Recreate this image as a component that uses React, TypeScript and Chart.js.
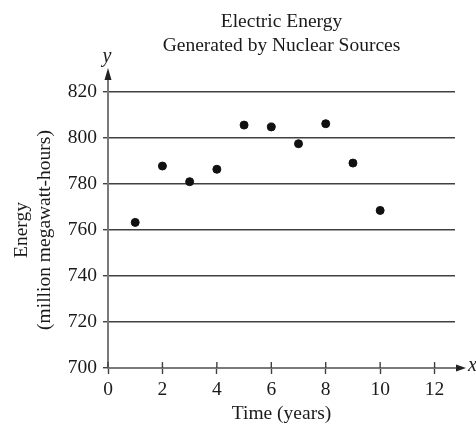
import React, { useEffect, useRef } from "react";
import { Chart, registerables } from "chart.js";

Chart.register(...registerables);

const years = [1, 2, 3, 4, 5, 6, 7, 8, 9, 10];
const energy = [763.3, 787.8, 781, 786.4, 805.6, 804.8, 797.5, 806.2, 789.1, 768.5];
const xTicks = [0, 2, 4, 6, 8, 10, 12];
const yTicks = [700, 720, 740, 760, 780, 800, 820];
const titleLines = ["Electric Energy", "Generated by Nuclear Sources"];
const yTitleLines = ["Energy", "(million megawatt-hours)"];
const xTitle = "Time (years)";

const FONT = "'Liberation Serif', 'DejaVu Serif', serif";
const AXIS = "#7a7a7a";
const GRID = "#404040";
const TEXT = "#1a1a1a";

const axesPlugin = {
  id: "axesArrows",
  afterDraw(chart: any) {
    const ctx = chart.ctx;
    const { top, right, bottom } = chart.chartArea;
    const xs = chart.scales.x;
    const x0 = xs.getPixelForValue(0);
    ctx.save();
    ctx.strokeStyle = AXIS;
    ctx.fillStyle = "#222";
    ctx.lineWidth = 2;
    // y-axis extension
    ctx.beginPath();
    ctx.moveTo(x0, top);
    ctx.lineTo(x0, top - 14);
    ctx.stroke();
    ctx.beginPath();
    ctx.moveTo(x0, top - 24);
    ctx.lineTo(x0 - 3.5, top - 12);
    ctx.lineTo(x0 + 3.5, top - 12);
    ctx.closePath();
    ctx.fill();
    // x-axis extension
    ctx.beginPath();
    ctx.moveTo(right, bottom);
    ctx.lineTo(right + 2, bottom);
    ctx.stroke();
    ctx.beginPath();
    ctx.moveTo(right + 11, bottom);
    ctx.lineTo(right + 1, bottom - 3.5);
    ctx.lineTo(right + 1, bottom + 3.5);
    ctx.closePath();
    ctx.fill();
    // upper halves of x tick marks
    ctx.strokeStyle = GRID;
    ctx.lineWidth = 1.4;
    xTicks.forEach((v) => {
      const px = xs.getPixelForValue(v);
      ctx.beginPath();
      ctx.moveTo(px, bottom - 6);
      ctx.lineTo(px, bottom);
      ctx.stroke();
    });
    // axis letters
    ctx.fillStyle = TEXT;
    ctx.font = `italic 20px ${FONT}`;
    ctx.textBaseline = "middle";
    ctx.textAlign = "center";
    ctx.fillText("y", x0 - 1, top - 35);
    ctx.textAlign = "left";
    ctx.fillText("x", right + 13, bottom - 2);
    ctx.restore();
  },
};

export default function App() {
  const ref = useRef<HTMLCanvasElement>(null);
  useEffect(() => {
    if (!ref.current) return;
    const chart = new Chart(ref.current, {
      type: "scatter",
      data: {
        datasets: [
          {
            data: years.map((x, i) => ({ x, y: energy[i] })),
            backgroundColor: "#111",
            borderColor: "#111",
            pointRadius: 4,
            pointHoverRadius: 4,
          },
        ],
      },
      options: {
        animation: false,
        responsive: true,
        maintainAspectRatio: false,
        layout: { padding: { left: 0, right: 21, top: 0, bottom: 0 } },
        plugins: {
          legend: { display: false },
          tooltip: { enabled: false },
          title: {
            display: true,
            text: titleLines,
            fullSize: false,
            color: TEXT,
            font: { family: FONT, size: 19.5, weight: "normal", lineHeight: 1.23 },
            padding: { top: 10, bottom: 34 },
          },
        },
        scales: {
          x: {
            type: "linear",
            min: 0,
            max: 12.75,
            afterBuildTicks: (s: any) => {
              s.ticks = xTicks.map((value) => ({ value }));
            },
            afterFit: (s: any) => {
              s.height = 57;
            },
            ticks: {
              color: TEXT,
              font: { family: FONT, size: 19.5 },
              padding: 4,
              maxRotation: 0,
            },
            grid: {
              display: true,
              drawOnChartArea: false,
              drawTicks: true,
              tickLength: 6,
              tickColor: GRID,
              tickWidth: 1.4,
            },
            border: { display: true, color: AXIS, width: 2 },
            title: {
              display: true,
              text: xTitle,
              color: TEXT,
              font: { family: FONT, size: 19.5, lineHeight: 1.1 },
              padding: { top: 0, bottom: 0 },
            },
          },
          y: {
            type: "linear",
            min: 700,
            max: 820,
            afterBuildTicks: (s: any) => {
              s.ticks = yTicks.map((value) => ({ value }));
            },
            afterFit: (s: any) => {
              s.width = 108;
            },
            ticks: {
              color: TEXT,
              font: { family: FONT, size: 19.5 },
              padding: 6,
            },
            grid: {
              color: GRID,
              lineWidth: 1.4,
              drawTicks: true,
              tickLength: 5,
              tickColor: GRID,
            },
            border: { display: true, color: AXIS, width: 2 },
            title: {
              display: true,
              text: yTitleLines,
              color: TEXT,
              font: { family: FONT, size: 19.5, lineHeight: 1.15 },
              padding: { top: 11, bottom: 0 },
            },
          },
        },
      } as any,
      plugins: [axesPlugin],
    });
    return () => chart.destroy();
  }, []);
  return (
    <div style={{ position: "absolute", left: 0, top: 0, width: 476, height: 425, background: "#fff" }}>
      <canvas ref={ref} />
    </div>
  );
}
